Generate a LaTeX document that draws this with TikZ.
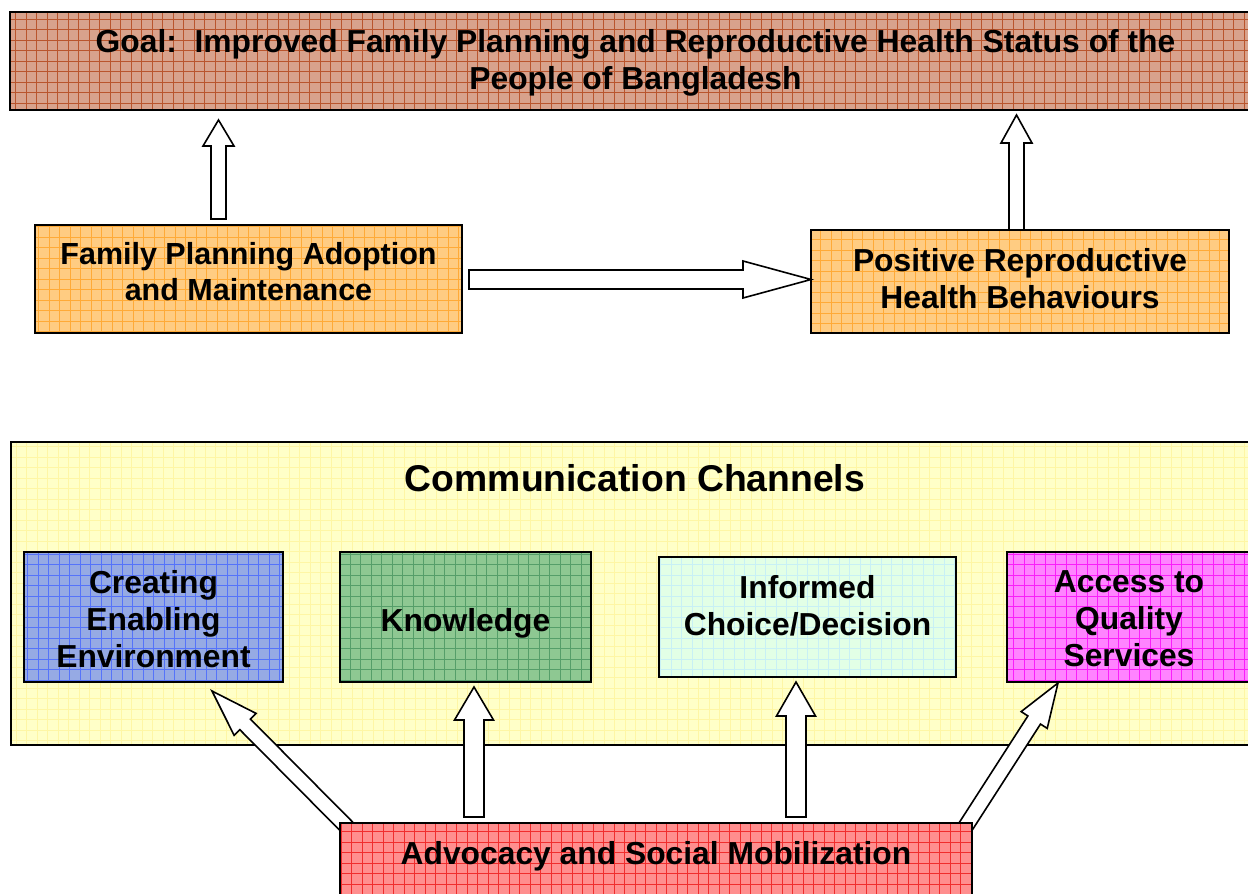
\documentclass[tikz,border=0pt]{standalone}
\usepackage{fontspec}
\setmainfont{Liberation Sans}
\usetikzlibrary{calc}

% fills and grid-line tones
\definecolor{goalfill}{RGB}{216,162,140}
\definecolor{goalgrid}{RGB}{185,85,45}
\definecolor{orfill}{RGB}{255,204,130}
\definecolor{orgrid}{RGB}{255,170,55}
\definecolor{commfill}{RGB}{255,255,200}
\definecolor{commgrid}{RGB}{254,246,165}
\definecolor{bluefill}{RGB}{150,170,228}
\definecolor{bluegrid}{RGB}{85,115,250}
\definecolor{greenfill}{RGB}{142,200,146}
\definecolor{greengrid}{RGB}{85,158,105}
\definecolor{cyanfill}{RGB}{226,255,230}
\definecolor{cyangrid}{RGB}{200,240,245}
\definecolor{magfill}{RGB}{255,132,255}
\definecolor{maggrid}{RGB}{250,30,250}
\definecolor{redfill}{RGB}{255,142,142}
\definecolor{redgrid}{RGB}{240,45,45}

\tikzset{
  gridbox/.style 2 args={draw=black, line width=1.6, fill=#1, inner sep=0,
    path picture={\draw[#2, line width=0.7]
      (path picture bounding box.south west) grid[step=10.5pt]
      (path picture bounding box.north east);}},
  lbl/.style={font=\bfseries\fontsize{31.8}{37}\selectfont, align=center, inner sep=0},
  title/.style={font=\bfseries\fontsize{37.3}{42}\selectfont, inner sep=0},
  blk/.style={draw=black, line width=1.6, fill=white, line join=miter},
}

% block arrow: tail, tip, half shaft width, half head width, head length
\newcommand\blockarrow[5]{%
  \coordinate (ba-n) at ($(#2)!#5pt!(#1)$);
  \draw[blk] ($(#1)!#3pt!90:(#2)$) -- ($(ba-n)!#3pt!90:(#2)$)
    -- ($(ba-n)!#4pt!90:(#2)$) -- (#2) -- ($(ba-n)!#4pt!-90:(#2)$)
    -- ($(ba-n)!#3pt!-90:(#2)$) -- ($(#1)!#3pt!-90:(#2)$) -- cycle;
}

\begin{document}
\begin{tikzpicture}[x=1pt, y=-1pt]
\useasboundingbox (0,0) rectangle (1248,894);
\clip (0,0) rectangle (1248,894);
\fill[white] (0,0) rectangle (1248,894);

% goal
\node[gridbox={goalfill}{goalgrid}, minimum width=1250, minimum height=98] (goal) at (635,61) {};
\node[lbl] (goal-t) at (635.5,63) {Goal:\ \ Improved Family Planning and Reproductive Health Status of the\\People of Bangladesh};

% outcomes
\node[gridbox={orfill}{orgrid}, minimum width=427, minimum height=108] (fp) at (248.5,279) {};
\node[lbl, font=\bfseries\fontsize{30.5}{36}\selectfont] (fp-t) at (248.5,272) {Family Planning Adoption\\and Maintenance};
\node[gridbox={orfill}{orgrid}, minimum width=418, minimum height=103] (prh) at (1020,281.5) {};
\node[lbl] (prh-t) at (1020,278.5) {Positive Reproductive\\Health Behaviours};

% communication channels
\node[gridbox={commfill}{commgrid}, line width=2.2, minimum width=1249, minimum height=303] (comm) at (635.5,593.5) {};
\node[title] (comm-t) at (635,478) {Communication Channels};

\node[gridbox={bluefill}{bluegrid}, minimum width=259, minimum height=130] (cee) at (153.5,617) {};
\node[lbl] (cee-t) at (153.5,619) {Creating\\Enabling\\Environment};
\node[gridbox={greenfill}{greengrid}, minimum width=251, minimum height=130] (know) at (465.5,617) {};
\node[lbl] (know-t) at (465.5,623) {Knowledge};
\node[gridbox={cyanfill}{cyangrid}, minimum width=297, minimum height=120] (inf) at (807.5,617) {};
\node[lbl] (inf-t) at (807.5,606) {Informed\\Choice/Decision};
\node[gridbox={magfill}{maggrid}, minimum width=244, minimum height=130] (acc) at (1129,617) {};
\node[lbl] (acc-t) at (1129,619) {Access to\\Quality\\Services};

% arrow ends
\coordinate (u1s) at (218.5,219);  \coordinate (u1e) at (218.5,120);
\coordinate (u2s) at (1016.5,230); \coordinate (u2e) at (1016.5,115);
\coordinate (hs) at (469,279.5);   \coordinate (he) at (811,279.5);
\coordinate (d1s) at (349,829);    \coordinate (d1e) at (212,691);
\coordinate (v1s) at (474,817);    \coordinate (v1e) at (474,687);
\coordinate (v2s) at (796,817);    \coordinate (v2e) at (796,682);
\coordinate (d2s) at (964,829);    \coordinate (d2e) at (1058,683);

\blockarrow{u1s}{u1e}{7.5}{15.5}{26}
\blockarrow{u2s}{u2e}{7.5}{15.5}{28}
\blockarrow{hs}{he}{9.5}{18.5}{68}
\blockarrow{d1s}{d1e}{7.5}{15.5}{47}
\blockarrow{v1s}{v1e}{10}{19.5}{33}
\blockarrow{v2s}{v2e}{10}{19.5}{34}
\blockarrow{d2s}{d2e}{7.5}{15.5}{44}

% advocacy
\node[gridbox={redfill}{redgrid}, minimum width=632, minimum height=80] (adv) at (656,863) {};
\node[lbl] (adv-t) at (656,856) {Advocacy and Social Mobilization};
\end{tikzpicture}
\end{document}
